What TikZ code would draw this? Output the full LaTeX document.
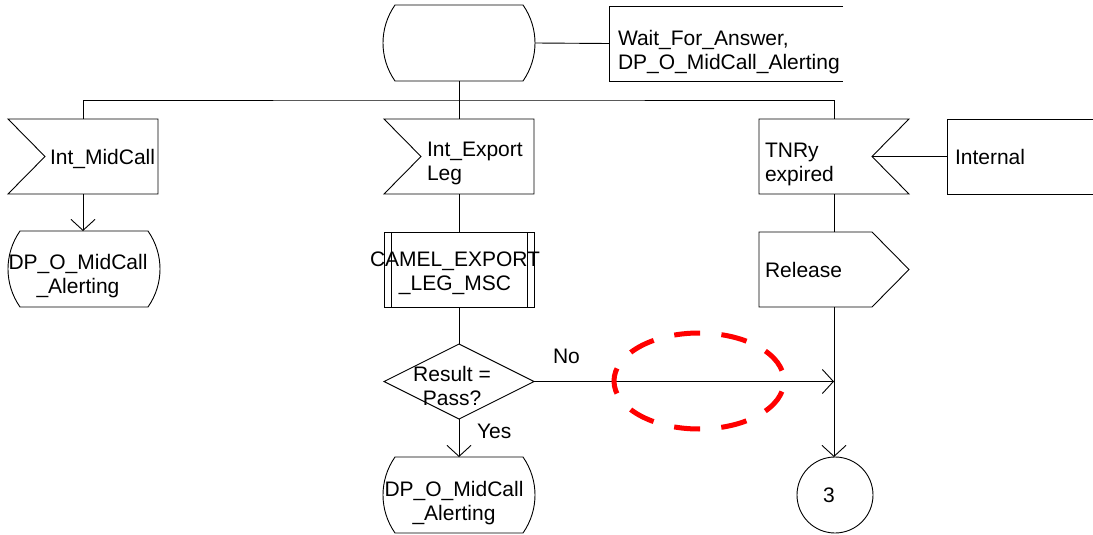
\documentclass[tikz,border=0pt]{standalone}
\usepackage{fontspec}
\setmainfont{Liberation Sans}
\usetikzlibrary{calc,arrows.meta}
\newcommand\drawState[1]{\draw ($(#1.north west)+(12,0)$) -- ($(#1.north east)+(-12,0)$) .. controls ($(#1.north east)+(4,23)$) and ($(#1.south east)+(4,-23)$) .. ($(#1.south east)+(-12,0)$) -- ($(#1.south west)+(12,0)$) .. controls ($(#1.south west)+(-4,-23)$) and ($(#1.north west)+(-4,23)$) .. cycle;}
\newcommand\drawInput[1]{\draw (#1.north west) -- (#1.north east) -- (#1.south east) -- (#1.south west) -- ($(#1.west)+(37,0)$) -- cycle;}
\newcommand\drawInputR[1]{\draw (#1.north west) -- (#1.north east) -- ($(#1.east)+(-37,0)$) -- (#1.south east) -- (#1.south west) -- cycle;}
\newcommand\drawOutput[1]{\draw (#1.north west) -- ($(#1.north east)+(-37,0)$) -- (#1.east) -- ($(#1.south east)+(-37,0)$) -- (#1.south west) -- cycle;}
\newcommand\drawProc[1]{\draw (#1.north west) rectangle (#1.south east); \draw ($(#1.north west)+(7,0)$) -- ($(#1.south west)+(7,0)$); \draw ($(#1.north east)+(-7,0)$) -- ($(#1.south east)+(-7,0)$);}
\newcommand\drawDecision[1]{\draw (#1.north) -- (#1.east) -- (#1.south) -- (#1.west) -- cycle;}
\newcommand\drawComment[1]{\draw (#1.north east) -- (#1.north west) -- (#1.south west) -- (#1.south east);}
\begin{document}
\begin{tikzpicture}[x=1pt,y=-1pt,line width=0.9pt,
  sym/.style={inner sep=0pt,outer sep=0pt,minimum width=150pt,minimum height=75pt},
  stsym/.style={sym,minimum width=152pt,minimum height=76pt},
  txt/.style={inner sep=0pt,outer sep=0pt,font=\fontsize{21}{24}\selectfont},
  arr/.style={-{Straight Barb[length=11pt,width=24pt]}},
  redring/.style={draw=red,line width=5pt,dash pattern=on 26pt off 21.3pt,dash phase=36.6pt}]
\useasboundingbox[fill=white] (0,0) rectangle (1093,535);

% shapes
\node[stsym] (st0) at (459,43) {};
\node[sym,minimum width=234pt] (wbox) at (726,43.5) {};
\node[sym] (in1) at (83,156.5) {};
\node[sym] (in2) at (459,156.5) {};
\node[sym] (in3) at (834,156.5) {};
\node[sym,minimum width=146pt] (ibox) at (1020,156.5) {};
\node[stsym] (st1) at (84,269) {};
\node[sym] (proc) at (459,269.5) {};
\node[sym] (rel) at (834,269.5) {};
\node[sym] (dia) at (459,381.5) {};
\node[stsym] (st2) at (459,495) {};
\node[circle,draw,minimum size=76pt,inner sep=0pt,outer sep=0pt] (c3) at (835,495) {};
\coordinate (bus) at (459,100);

\drawState{st0}
\drawComment{wbox}
\drawInput{in1}
\drawInput{in2}
\drawInputR{in3}
\drawComment{ibox}
\drawState{st1}
\drawProc{proc}
\drawOutput{rel}
\drawDecision{dia}
\drawState{st2}

% texts (base anchor of a multi-line node = baseline of its last line)
\node[txt,anchor=base west,align=left] (twait) at (618,70) {Wait\_For\_Answer,\\DP\_O\_MidCall\_Alerting};
\node[txt,anchor=base west] (tin1) at (50,164) {Int\_MidCall};
\node[txt,anchor=base west,align=left] (tin2) at (427,180) {Int\_Export\\Leg};
\node[txt,anchor=base west,align=left] (tin3) at (765,181) {TNRy\\expired};
\node[txt,anchor=base west] (tibox) at (955,164) {Internal};
\node[txt,anchor=base,align=center] (tst1) at (78,293) {DP\_O\_MidCall\\\_Alerting};
\node[txt,anchor=base,align=center] (tproc) at (455,290) {CAMEL\_EXPORT\\\_LEG\_MSC};
\node[txt,anchor=base west] (trel) at (765,277) {Release};
\node[txt,anchor=base,align=center] (tdia) at (452,405) {Result =\\Pass?};
\node[txt,anchor=base,align=center] (tst2) at (454,520) {DP\_O\_MidCall\\\_Alerting};
\node[txt,anchor=base west] (tyes) at (477,438) {Yes};
\node[txt,anchor=base west] (tno) at (553,363) {No};
\node[txt,anchor=base] (t3) at (829,502) {3};

% connectors
\draw (st0.east) -- (wbox.west);
\draw (st0.south) -- (bus);
\draw (in1.north) |- (bus) -| (in3.north);
\draw (bus) -- (in2.north);
\draw[arr] (in1.south) -- (in1.south |- st1.north);
\draw (in2.south) -- (proc.north);
\draw (proc.south) -- (dia.north);
\draw[arr] (dia.south) -- (st2.north);
\draw ($(in3.east)+(-37,0)$) -- (ibox.west);
\draw (in3.south) -- (rel.north);
\draw[arr] (rel.south) -- (rel.south |- c3.north);
\draw[arr] (dia.east) -- (dia.east -| rel.south);

% highlight
\draw[redring] (699,381) ellipse [x radius=85pt,y radius=48pt];
\end{tikzpicture}
\end{document}
